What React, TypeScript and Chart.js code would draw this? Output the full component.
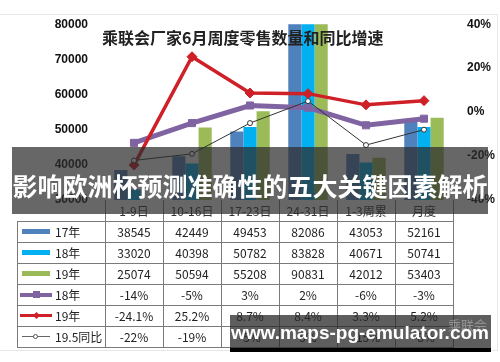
import React, { useEffect, useRef } from 'react';
import { Chart, registerables } from 'chart.js';

Chart.register(...registerables);

const categories = ['1-9日', '10-16日', '17-23日', '24-31日', '1-3周累', '月度'];
const sales17 = [38545, 42449, 49453, 82086, 43053, 52161];
const sales18 = [33020, 40398, 50782, 83828, 40671, 50741];
const sales19 = [25074, 50594, 55208, 90831, 42012, 53403];
const growth18 = [-14, -5, 3, 2, -6, -3];
const growth19 = [-24.1, 25.2, 8.7, 8.4, 3.3, 5.2];
const growth195 = [-22, -19, -5, 5, -15, -8];
const leftMin = 30000;
const leftMax = 80000;
const leftStep = 10000;
const rightMin = -40;
const rightMax = 40;
const rightStep = 20;
const chartTitle = '乘联会厂家6月周度零售数量和同比增速';
const bannerText = '影响欧洲杯预测准确性的五大关键因素解析';
const watermarkText = 'www.maps-pg-emulator.com';
const logoText = '乘联会';

const colors = {
  s17: '#4F81BD',
  s18: '#00B0F0',
  s19: '#9BBB59',
  g18: '#8064A2',
  g19: '#CF1F27',
  g195: '#333333',
};

type Row = { label: string; kind: string; color: string; values: string[] };
const tableRows: Row[] = [
  { label: '17年', kind: 'bar', color: colors.s17, values: sales17.map(String) },
  { label: '18年', kind: 'bar', color: colors.s18, values: sales18.map(String) },
  { label: '19年', kind: 'bar', color: colors.s19, values: sales19.map(String) },
  { label: '18年', kind: 'rect', color: colors.g18, values: growth18.map((v) => v + '%') },
  { label: '19年', kind: 'diamond', color: colors.g19, values: growth19.map((v) => v + '%') },
  { label: '19.5同比', kind: 'circle', color: '#666', values: growth195.map((v) => v + '%') },
];

const CJK = '"Noto Sans CJK SC", "Noto Sans", sans-serif';

function Sample({ kind, color }: { kind: string; color: string }) {
  const base: React.CSSProperties = { position: 'absolute' };
  if (kind === 'bar') {
    return <div style={{ ...base, left: 5, top: 8, width: 28, height: 5, background: color }} />;
  }
  if (kind === 'rect') {
    return (
      <>
        <div style={{ ...base, left: 3, top: 9, width: 32, height: 4, background: color }} />
        <div style={{ ...base, left: 16, top: 7, width: 7, height: 7, background: color }} />
      </>
    );
  }
  if (kind === 'diamond') {
    return (
      <>
        <div style={{ ...base, left: 3, top: 9, width: 32, height: 3, background: color }} />
        <div style={{ ...base, left: 17, top: 8, width: 5, height: 5, background: color, transform: 'rotate(45deg)' }} />
      </>
    );
  }
  return (
    <>
      <div style={{ ...base, left: 5, top: 10, width: 28, height: 1, background: color }} />
      <div style={{ ...base, left: 16, top: 8, width: 5, height: 5, borderRadius: 3, background: '#fff', border: '1px solid #555', boxSizing: 'border-box' }} />
    </>
  );
}

function DataTable() {
  const x0 = 17;
  const xPlot = 105;
  const colW = 58;
  const headerTop = 200;
  const rowTop = 221;
  const rowH = 21;
  const right = xPlot + colW * categories.length;
  const bottom = rowTop + rowH * tableRows.length;
  const line = '#7a7a7a';
  const els: React.ReactNode[] = [];
  for (let i = 0; i <= tableRows.length; i++) {
    els.push(
      <div key={'h' + i} style={{ position: 'absolute', left: x0, top: rowTop + i * rowH, width: right - x0 + 1, height: 1, background: line }} />
    );
  }
  els.push(<div key="vl" style={{ position: 'absolute', left: x0, top: rowTop, width: 1, height: bottom - rowTop + 1, background: line }} />);
  for (let c = 0; c <= categories.length; c++) {
    els.push(
      <div key={'v' + c} style={{ position: 'absolute', left: xPlot + c * colW, top: headerTop, width: 1, height: bottom - headerTop + 1, background: line }} />
    );
  }
  categories.forEach((cat, c) => {
    els.push(
      <div key={'hd' + c} style={{ position: 'absolute', left: xPlot + c * colW, top: headerTop, width: colW, height: rowTop - headerTop, lineHeight: rowTop - headerTop + 'px', textAlign: 'center', fontFamily: CJK, fontSize: 12, color: '#333' }}>{cat}</div>
    );
  });
  tableRows.forEach((row, r) => {
    const top = rowTop + r * rowH;
    els.push(
      <div key={'lab' + r} style={{ position: 'absolute', left: x0, top, width: xPlot - x0, height: rowH }}>
        <Sample kind={row.kind} color={row.color} />
        <div style={{ position: 'absolute', left: 38, top: 0, height: rowH, lineHeight: rowH + 'px', fontFamily: CJK, fontSize: 12, color: '#222', whiteSpace: 'nowrap' }}>{row.label}</div>
      </div>
    );
    row.values.forEach((v, c) => {
      els.push(
        <div key={'c' + r + '_' + c} style={{ position: 'absolute', left: xPlot + c * colW, top, width: colW, height: rowH, lineHeight: rowH + 'px', textAlign: 'center', fontFamily: CJK, fontSize: 12, color: '#222' }}>{v}</div>
      );
    });
  });
  return <>{els}</>;
}

export default function App() {
  const canvasRef = useRef<HTMLCanvasElement | null>(null);

  useEffect(() => {
    const canvas = canvasRef.current;
    if (!canvas) return;
    const tickFont = { family: '"Liberation Sans", Arial, sans-serif', weight: 'bold' as const, size: 12 };
    const chart = new Chart(canvas, {
      type: 'bar',
      data: {
        labels: categories,
        datasets: [
          {
            type: 'line', label: '19.5同比', data: growth195, yAxisID: 'y1',
            borderColor: colors.g195, borderWidth: 1, tension: 0,
            pointStyle: 'circle', pointRadius: 2.5, pointBackgroundColor: '#fff',
            pointBorderColor: colors.g195, pointBorderWidth: 1, order: 0,
          } as any,
          {
            type: 'line', label: '19年', data: growth19, yAxisID: 'y1',
            borderColor: colors.g19, borderWidth: 3.5, tension: 0,
            pointStyle: 'rectRot', pointRadius: 5, pointBackgroundColor: colors.g19,
            pointBorderColor: colors.g19, pointBorderWidth: 1, order: 1,
          } as any,
          {
            type: 'line', label: '18年', data: growth18, yAxisID: 'y1',
            borderColor: colors.g18, borderWidth: 5, tension: 0,
            pointStyle: 'rect', pointRadius: 5, pointBackgroundColor: colors.g18,
            pointBorderColor: colors.g18, pointBorderWidth: 1, order: 2,
          } as any,
          { type: 'bar', label: '17年', data: sales17, yAxisID: 'y', backgroundColor: colors.s17, order: 3, categoryPercentage: 0.68, barPercentage: 1 } as any,
          { type: 'bar', label: '18年', data: sales18, yAxisID: 'y', backgroundColor: colors.s18, order: 3, categoryPercentage: 0.68, barPercentage: 1 } as any,
          { type: 'bar', label: '19年', data: sales19, yAxisID: 'y', backgroundColor: colors.s19, order: 3, categoryPercentage: 0.68, barPercentage: 1 } as any,
        ],
      },
      options: {
        responsive: false,
        animation: false,
        devicePixelRatio: 1,
        layout: { padding: { left: 0, right: 0, top: 21, bottom: 162 } },
        plugins: { legend: { display: false }, tooltip: { enabled: false }, title: { display: false } },
        scales: {
          x: { display: false, offset: true, grid: { display: false } },
          y: {
            position: 'left', min: leftMin, max: leftMax,
            ticks: { stepSize: leftStep, padding: 17, color: '#111', font: tickFont, callback: (v: any) => String(v) },
            grid: { display: false, drawTicks: false },
            border: { display: false },
            afterFit: (s: any) => { s.width = 105; },
          },
          y1: {
            position: 'right', min: rightMin, max: rightMax,
            ticks: { stepSize: rightStep, padding: 14, color: '#111', font: tickFont, callback: (v: any) => v + '%' },
            grid: { display: false, drawTicks: false },
            border: { display: false },
            afterFit: (s: any) => { s.width = 47; },
          },
        },
      } as any,
    });
    return () => chart.destroy();
  }, []);

  return (
    <div style={{ position: 'absolute', left: 0, top: 0, width: 500, height: 362, background: '#fff', overflow: 'hidden' }}>
      <div style={{ position: 'absolute', left: -1, top: 14, width: 497, height: 335, border: '1px solid #e6e6e6' }} />
      <canvas ref={canvasRef} width={500} height={362} style={{ position: 'absolute', left: 0, top: 0, width: 500, height: 362 }} />
      <div style={{ position: 'absolute', left: 102, top: 28, fontFamily: CJK, fontWeight: 'bold', fontSize: 16, lineHeight: '18px', color: '#222', whiteSpace: 'nowrap' }}>{chartTitle}</div>
      <DataTable />
      <div style={{ position: 'absolute', left: 12, top: 147, width: 476, height: 67, background: 'rgba(45,45,45,0.72)' }} />
      <div style={{ position: 'absolute', left: 0, top: 171, width: 500, height: 28, lineHeight: '28px', textAlign: 'center', fontFamily: CJK, fontWeight: 'bold', fontSize: 25, color: '#fff', whiteSpace: 'nowrap' }}>{bannerText}</div>
      <div style={{ position: 'absolute', left: 230, top: 315, width: 261, height: 33, background: 'rgba(40,40,40,0.75)' }} />
      <div style={{ position: 'absolute', left: 230, top: 348, width: 261, height: 4, background: '#000' }} />
      <div style={{ position: 'absolute', left: 448, top: 318, fontFamily: CJK, fontSize: 13, lineHeight: '14px', color: 'rgba(190,190,190,0.55)', whiteSpace: 'nowrap' }}>{logoText}</div>
      <div style={{ position: 'absolute', left: 231, top: 320, width: 262, height: 26, lineHeight: '26px', fontFamily: '"Liberation Sans", Arial, sans-serif', fontWeight: 'bold', fontSize: 19, color: '#fff', whiteSpace: 'nowrap' }}>{watermarkText}</div>
    </div>
  );
}
